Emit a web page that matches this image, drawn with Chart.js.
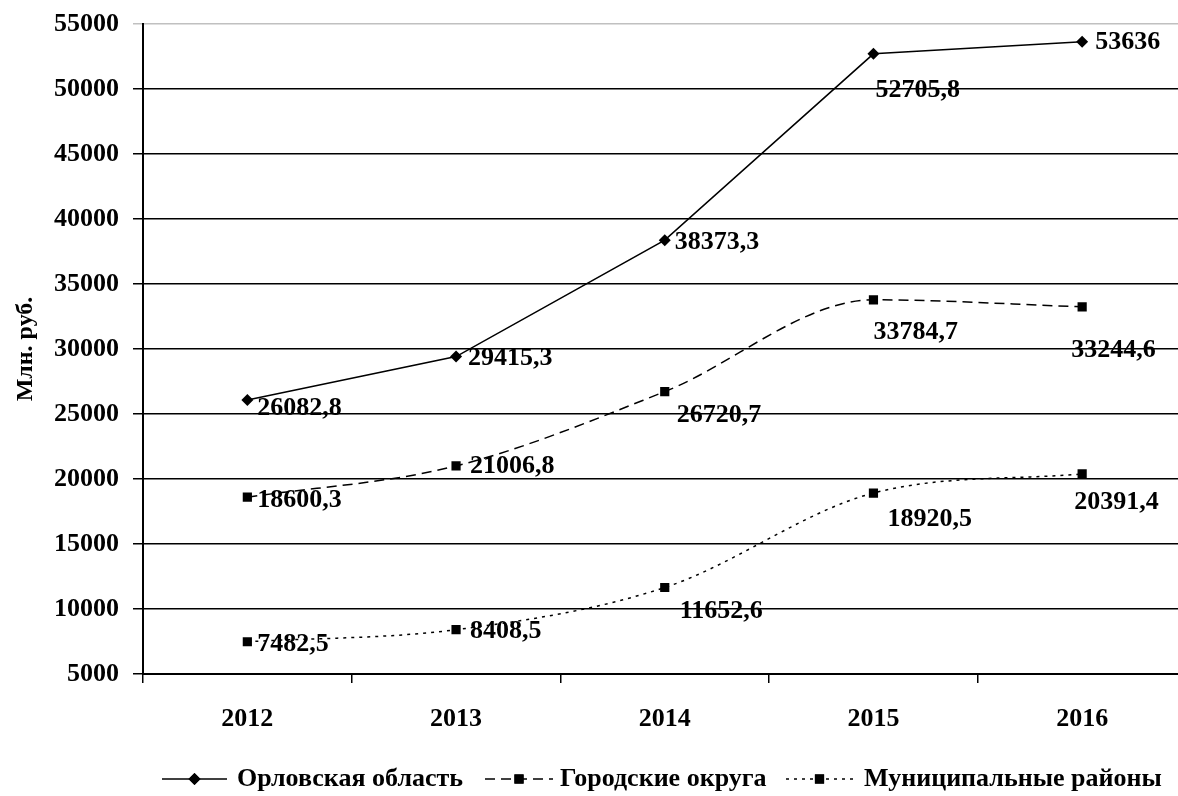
<!DOCTYPE html>
<html>
<head>
<meta charset="utf-8">
<script src="https://cdn.jsdelivr.net/npm/chart.js@4"></script>
<style>
  html, body { margin: 0; padding: 0; background: #fff; overflow: hidden; }
  #wrap { width: 1193px; height: 796px; }
</style>
</head>
<body>
<div id="wrap"><canvas id="chart" width="1193" height="796"></canvas></div>
<script>
var years = ["2012", "2013", "2014", "2015", "2016"];
var orel = [26082.8, 29415.3, 38373.3, 52705.8, 53636];
var cities = [18600.3, 21006.8, 26720.7, 33784.7, 33244.6];
var districts = [7482.5, 8408.5, 11652.6, 18920.5, 20391.4];
var seriesNames = ["Орловская область", "Городские округа", "Муниципальные районы"];

var FONT = "Liberation Serif, Times New Roman, serif";

// label offsets from each point: [dx, dy]
var labelOffsets = [
  [[10, 8], [12, 2], [10, 2], [2, 36], [13, 1]],
  [[10, 3], [14, 0], [12, 24], [0, 32], [-11, 43]],
  [[10, 3], [14, 2], [15, 24], [14, 26], [-8, 28]]
];

var valueLabels = {
  id: "valueLabels",
  afterDatasetsDraw: function (chart) {
    var ctx = chart.ctx;
    ctx.save();
    ctx.font = "bold 26px " + FONT;
    ctx.fillStyle = "#000";
    ctx.textAlign = "left";
    ctx.textBaseline = "middle";
    chart.data.datasets.forEach(function (ds, i) {
      var meta = chart.getDatasetMeta(i);
      meta.data.forEach(function (pt, j) {
        var txt = String(ds.data[j]).replace(".", ",");
        var off = labelOffsets[i][j];
        ctx.fillText(txt, pt.x + off[0], pt.y + off[1]);
      });
    });
    ctx.restore();
  }
};

var legendItems = [
  { x1: 162, x2: 227, text: 237, dash: [], style: "rectRot" },
  { x1: 485, x2: 553, text: 560, dash: [10, 6], style: "rect" },
  { x1: 786, x2: 853, text: 864, dash: [3, 5], style: "rect" }
];

var bottomLegend = {
  id: "bottomLegend",
  afterDraw: function (chart) {
    var ctx = chart.ctx;
    var y = 779;
    ctx.save();
    legendItems.forEach(function (it, i) {
      ctx.strokeStyle = "#000";
      ctx.lineWidth = 1.5;
      ctx.setLineDash(it.dash);
      ctx.beginPath();
      ctx.moveTo(it.x1, y);
      ctx.lineTo(it.x2, y);
      ctx.stroke();
      ctx.setLineDash([]);
      ctx.fillStyle = "#000";
      Chart.helpers.drawPoint(ctx, { pointStyle: it.style, radius: it.style === "rect" ? 6.5 : 6, rotation: 0, borderWidth: 0 }, (it.x1 + it.x2) / 2, y);
      ctx.fill();
      ctx.font = "bold 26px " + FONT;
      ctx.textAlign = "left";
      ctx.textBaseline = "middle";
      ctx.fillText(seriesNames[i], it.text, y);
    });
    ctx.restore();
  }
};

function lineSet(label, values, dash, style, radius, smooth) {
  return {
    label: label,
    data: values,
    borderColor: "#000",
    backgroundColor: "#000",
    borderWidth: 1.5,
    borderDash: dash,
    pointStyle: style,
    pointRadius: radius,
    pointBorderWidth: 0,
    tension: smooth ? 0.4 : 0,
    cubicInterpolationMode: smooth ? "monotone" : "default",
    fill: false
  };
}

var config = {
  type: "line",
  data: {
    labels: years,
    datasets: [
      lineSet(seriesNames[0], orel, [], "rectRot", 6, false),
      lineSet(seriesNames[1], cities, [10, 6], "rect", 6.5, true),
      lineSet(seriesNames[2], districts, [3, 5], "rect", 6.5, true)
    ]
  },
  options: {
    responsive: false,
    animation: false,
    devicePixelRatio: 1,
    layout: { padding: { top: 24, left: 0, right: 0, bottom: 0 } },
    plugins: {
      legend: { display: false },
      tooltip: { enabled: false }
    },
    scales: {
      x: {
        offset: true,
        grid: { offset: true, drawOnChartArea: false, tickLength: 9, color: "#000", lineWidth: 1.5 },
        border: { color: "#000", width: 2 },
        ticks: { color: "#000", font: { family: FONT, size: 26, weight: "bold" }, padding: 21 },
        afterFit: function (s) { s.height = 122; s.paddingLeft = 0; s.paddingRight = 0; }
      },
      y: {
        min: 5000,
        max: 55000,
        ticks: {
          stepSize: 5000,
          color: "#000",
          font: { family: FONT, size: 26, weight: "bold" },
          padding: 14,
          callback: function (v) { return String(v); }
        },
        grid: {
          tickLength: 10,
          lineWidth: 1.5,
          color: function (c) { return c.tick && c.tick.value === 55000 ? "#c0c0c0" : "#000"; }
        },
        border: { color: "#000", width: 2 },
        title: { display: true, text: "Млн. руб.", color: "#000", font: { family: FONT, size: 24, weight: "bold" }, padding: { top: 11, bottom: 0 } },
        afterFit: function (s) { s.width = 143; s.paddingTop = 0; s.paddingBottom = 0; }
      }
    }
  },
  plugins: [valueLabels, bottomLegend]
};

var myChart = new Chart(document.getElementById("chart"), config);
</script>
</body>
</html>
